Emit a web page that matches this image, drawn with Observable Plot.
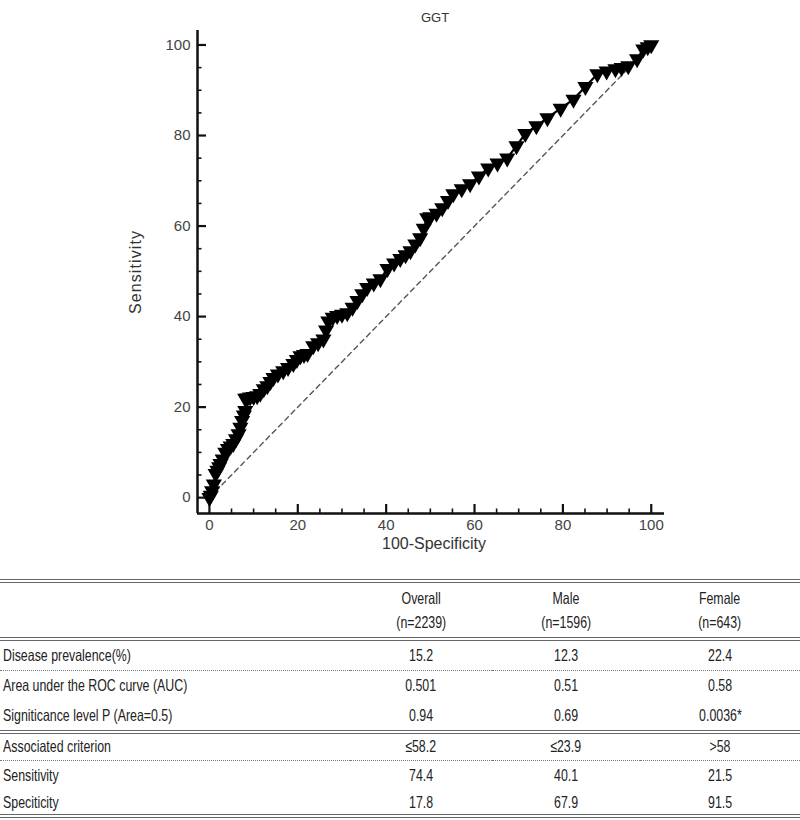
<!DOCTYPE html>
<html>
<head>
<meta charset="utf-8">
<script src="https://cdn.jsdelivr.net/npm/d3@7"></script>
<script src="https://cdn.jsdelivr.net/npm/@observablehq/plot@0.6"></script>
<style>
  html, body { margin: 0; padding: 0; background: #fff; }
  #wrap { width: 800px; }
  #chart svg { display: block; }
  table { border-collapse: collapse; width: 800px; margin-top: 14px; table-layout: fixed;
    font-family: "Liberation Sans", Arial, sans-serif;
    font-size: 16.5px; color: #222; border-top: 4px double #666; border-bottom: 4px double #666; }
  td { padding: 0; vertical-align: middle; white-space: nowrap; overflow: visible; }
  td.lab { text-align: left; padding-left: 3px; }
  td.num { text-align: center; }
  td span { display: inline-block; transform: scaleX(0.75); }
  td.lab span { transform-origin: left center; }
  td.num span { transform-origin: center center; }
  tr.head td { height: 54px; line-height: 24px; }
  tr.dbl td { border-bottom: 4px double #666; }
  tr.dot td { border-bottom: 1px dotted #777; }
</style>
</head>
<body>
<div id="wrap">
  <div id="chart"></div>
  <div id="table"></div>
</div>
<script>
// ROC curve points (100-Specificity, Sensitivity)
const fpr = [0, 0.3, 0.6, 1.0, 1.4, 1.8, 2.2, 2.5, 3.0, 3.6, 4.2, 4.8, 5.4, 6.0, 6.6, 7.0, 7.4, 7.8, 8.1, 8.1,
  8.6, 9.2, 10.0, 10.8, 11.5, 12.3, 13.1, 13.8, 14.5, 15.5, 16.7, 17.8, 19.0, 19.8, 20.6, 21.4, 22.2, 23.5, 24.6, 25.8,
  26.4, 26.9, 27.9, 28.9, 30.0, 31.2, 32.4, 33.5, 34.6, 35.7, 37.2, 38.7, 40.3, 41.8, 43.2, 44.4, 45.5, 46.6, 47.7, 48.5,
  49.3, 50.0, 51.4, 52.7, 54.0, 55.2, 57.1, 59.0, 61.0, 63.1, 65.2, 67.4, 69.5, 71.5, 74.0, 76.5, 79.5, 82.4, 85.1, 87.8,
  89.9, 91.9, 93.3, 94.8, 96.8, 98.2, 99.2, 100];
const tpr = [0, 0.5, 1.5, 3.0, 5.3, 6.0, 6.8, 7.5, 8.5, 10.0, 10.8, 11.4, 11.9, 13.0, 14.1, 15.5, 17.0, 18.2, 19.2, 21.9,
  22.0, 22.2, 22.3, 22.5, 23.0, 24.0, 24.7, 25.6, 26.5, 27.3, 28.0, 28.7, 29.6, 30.5, 31.3, 31.6, 31.8, 33.5, 34.2, 35.0,
  37.0, 39.0, 39.8, 40.2, 40.5, 40.8, 42.0, 43.5, 45.0, 46.4, 47.4, 48.3, 50.6, 51.8, 52.8, 53.6, 54.5, 56.0, 57.4, 59.5,
  61.8, 62.0, 62.8, 64.0, 65.6, 67.1, 68.2, 69.3, 71.0, 72.8, 73.9, 75.0, 77.7, 80.4, 82.1, 83.9, 86.0, 88.0, 90.8, 93.6,
  94.2, 94.7, 95.0, 95.4, 96.9, 99.1, 99.6, 100];
// diagonal reference line
const refX = [0, 100];
const refY = [0, 100];
// axis ticks
const majorTicks = [0, 20, 40, 60, 80, 100];
const minorTicks = [5, 10, 15, 25, 30, 35, 45, 50, 55, 65, 70, 75, 85, 90, 95];
// texts
const title = "GGT";
const xLabel = "100-Specificity";
const yLabel = "Sensitivity";

// table data
const groups = ["Overall", "Male", "Female"];
const groupN = ["(n=2239)", "(n=1596)", "(n=643)"];
const rowLabels = ["Disease prevalence(%)", "Area under the ROC  curve (AUC)", "Signiticance level P (Area=0.5)",
  "Associated criterion", "Sensitivity", "Speciticity"];
const overallVals = ["15.2", "0.501", "0.94", "\u226458.2", "74.4", "17.8"];
const maleVals = ["12.3", "0.51", "0.69", "\u226423.9", "40.1", "67.9"];
const femaleVals = ["22.4", "0.58", "0.0036*", ">58", "21.5", "91.5"];

const pts = fpr.map((x, i) => ({x, y: tpr[i]}));
const ref = refX.map((x, i) => ({x, y: refY[i]}));

// layout
const W = 800, H = 565, mL = 197, mR = 136, mT = 30, mB = 52;
const xDomain = [-2.7, 103];
const yDomain = [-3.5, 103.2];
// convert a tick length in pixels to data units (ticks drawn inward from the axis lines)
const xPerPx = (xDomain[1] - xDomain[0]) / (W - mL - mR);
const yPerPx = (yDomain[1] - yDomain[0]) / (H - mT - mB);
const majorLen = 9, minorLen = 4.5;

const plot = Plot.plot({
  width: W,
  height: H,
  marginLeft: mL,
  marginRight: mR,
  marginTop: mT,
  marginBottom: mB,
  x: {domain: xDomain},
  y: {domain: yDomain},
  style: {fontFamily: "'Liberation Sans', Arial, sans-serif", fontSize: "15px", color: "#333", background: "#fff"},
  marks: [
    Plot.ruleX([xDomain[0]], {stroke: "#111", strokeWidth: 2.5}),
    Plot.ruleY([yDomain[0]], {stroke: "#111", strokeWidth: 2.5}),
    // inward tick marks
    Plot.ruleX(majorTicks, {y1: yDomain[0], y2: yDomain[0] + majorLen * yPerPx, stroke: "#111", strokeWidth: 2.2}),
    Plot.ruleX(minorTicks, {y1: yDomain[0], y2: yDomain[0] + minorLen * yPerPx, stroke: "#111", strokeWidth: 1.6}),
    Plot.ruleY(majorTicks, {x1: xDomain[0], x2: xDomain[0] + majorLen * xPerPx, stroke: "#111", strokeWidth: 2.2}),
    Plot.ruleY(minorTicks, {x1: xDomain[0], x2: xDomain[0] + minorLen * xPerPx, stroke: "#111", strokeWidth: 1.6}),
    // tick labels
    Plot.axisX(majorTicks, {tickSize: 0, tickPadding: 6, fill: "#444", fontSize: 15, label: null}),
    Plot.axisY(majorTicks, {tickSize: 0, tickPadding: 7, fill: "#444", fontSize: 15, label: null}),
    Plot.line(ref, {x: "x", y: "y", stroke: "#555", strokeWidth: 1.4, strokeDasharray: "5,4"}),
    Plot.line(pts, {x: "x", y: "y", stroke: "#000", strokeWidth: 2.2}),
    Plot.dot(pts, {x: "x", y: "y", symbol: "triangle", r: 6, rotate: 180, fill: "#000", stroke: "none"}),
    Plot.text([title], {text: d => d, frameAnchor: "top", textAnchor: "middle", dy: -18, dx: 4, fontSize: 13, fill: "#333"}),
    Plot.text([xLabel], {text: d => d, frameAnchor: "bottom", textAnchor: "middle", dy: 35, dx: 3, fontSize: 16, fill: "#333"}),
    Plot.text([yLabel], {text: d => d, frameAnchor: "left", textAnchor: "middle", dx: -62, rotate: -90, fontSize: 16, fill: "#333"})
  ]
});
// slightly spaced letters for the y label, as in the reference
d3.select(plot).selectAll("text").filter(function () { return this.textContent === yLabel; })
  .attr("letter-spacing", "1.1px");
document.getElementById("chart").appendChild(plot);

// build table
const rowClass = ["dot", "", "dbl", "dot", "", ""];
const rowHeights = [31, 31, 31, 28, 30, 26];
const cell = (cls, t) => `<td class="${cls}"><span>${t}</span></td>`;
let html = '<table><colgroup><col style="width:350px"><col style="width:142px"><col style="width:148px"><col style="width:160px"></colgroup>';
html += '<tr class="head dbl"><td class="lab"></td>' +
  groups.map((g, i) => `<td class="num"><span>${g}</span><br><span>${groupN[i]}</span></td>`).join("") + '</tr>';
rowLabels.forEach((lab, i) => {
  html += `<tr class="${rowClass[i]}" style="height:${rowHeights[i]}px">` + cell("lab", lab) +
    cell("num", overallVals[i]) + cell("num", maleVals[i]) + cell("num", femaleVals[i]) + '</tr>';
});
html += '</table>';
document.getElementById("table").innerHTML = html;
</script>
</body>
</html>
